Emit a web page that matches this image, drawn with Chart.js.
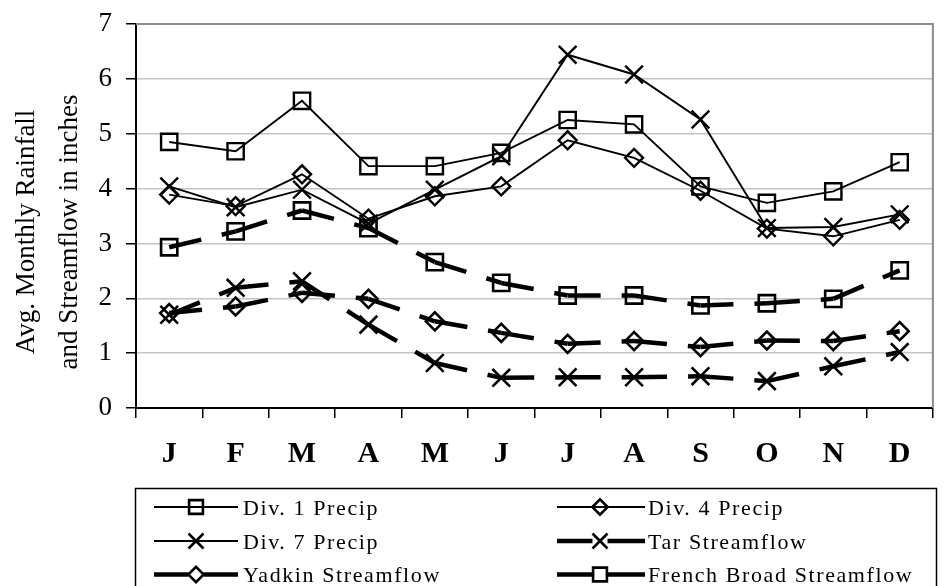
<!DOCTYPE html>
<html><head><meta charset="utf-8">
<script src="https://cdn.jsdelivr.net/npm/chart.js@4/dist/chart.umd.min.js"></script>
<style>html,body{margin:0;padding:0;background:#fff}#wrap{position:relative;width:948px;height:586px;overflow:hidden}</style>
</head><body><div id="wrap"><canvas id="c" width="948" height="586"></canvas></div>
<script>
const months = ['J','F','M','A','M','J','J','A','S','O','N','D'];
const div1Precip = [4.85,4.68,5.60,4.41,4.41,4.65,5.25,5.17,4.04,3.74,3.95,4.48];
const div4Precip = [3.89,3.68,4.26,3.45,3.86,4.04,4.88,4.56,3.96,3.27,3.13,3.43];
const div7Precip = [4.04,3.66,3.98,3.36,3.98,4.59,6.44,6.08,5.26,3.28,3.30,3.53];
const tarFlow = [1.70,2.19,2.31,1.52,0.82,0.55,0.56,0.56,0.58,0.49,0.76,1.02];
const yadkinFlow = [1.73,1.85,2.10,1.99,1.58,1.37,1.17,1.22,1.11,1.23,1.22,1.40];
const frenchBroadFlow = [2.93,3.22,3.60,3.28,2.66,2.28,2.05,2.05,1.87,1.91,1.99,2.51];
const yMin = 0, yMax = 7, yStep = 1;
const seriesNames = ['Div. 1 Precip','Div. 4 Precip','Div. 7 Precip','Tar Streamflow','Yadkin Streamflow','French Broad Streamflow'];
const yTitleLines = ['Avg. Monthly Rainfall','and Streamflow in inches'];

const SERIF = '"Liberation Serif", "Times New Roman", serif';
const FLOW_DASH = [33, 21];

function precipDS(label, data, style, r) {
  return { label, data, kind:'precip', borderColor:'#000', borderWidth:1.9,
    pointStyle:style, pointRadius:r, pointHoverRadius:r, pointBorderWidth:2.4,
    pointBorderColor:'#000', pointBackgroundColor:'rgba(0,0,0,0)', fill:false, tension:0 };
}
function flowDS(label, data, style, r) {
  return { label, data, kind:'flow', borderColor:'#000', borderWidth:4.5, borderDash:FLOW_DASH,
    segment:{ borderDash: () => FLOW_DASH, borderDashOffset: c => c.p0DataIndex * 0.001 },
    pointStyle:style, pointRadius:r, pointHoverRadius:r, pointBorderWidth:2.6,
    pointBorderColor:'#000', pointBackgroundColor:'rgba(0,0,0,0)', fill:false, tension:0 };
}

const datasets = [
  precipDS(seriesNames[0], div1Precip, 'rect', 11.5),
  precipDS(seriesNames[1], div4Precip, 'rectRot', 9),
  precipDS(seriesNames[2], div7Precip, 'crossRot', 12.5),
  flowDS(seriesNames[3], tarFlow, 'crossRot', 12.5),
  flowDS(seriesNames[4], yadkinFlow, 'rectRot', 9),
  flowDS(seriesNames[5], frenchBroadFlow, 'rect', 11.5)
];

function drawMarker(ctx, style, r, x, y, lw) {
  ctx.save();
  ctx.strokeStyle = '#000'; ctx.lineWidth = lw;
  ctx.beginPath();
  if (style === 'rect') { const s = r * Math.SQRT1_2; ctx.rect(x - s, y - s, 2*s, 2*s); }
  else if (style === 'rectRot') { ctx.moveTo(x - r, y); ctx.lineTo(x, y - r); ctx.lineTo(x + r, y); ctx.lineTo(x, y + r); ctx.closePath(); }
  else { const s = r * Math.SQRT1_2; ctx.moveTo(x - s, y - s); ctx.lineTo(x + s, y + s); ctx.moveTo(x - s, y + s); ctx.lineTo(x + s, y - s); }
  ctx.stroke();
  ctx.restore();
}

const extras = {
  id: 'extras',
  beforeDatasetsDraw(chart) {
    const {ctx, chartArea:a} = chart;
    ctx.save();
    ctx.strokeStyle = '#8c8c8c'; ctx.lineWidth = 2;
    ctx.beginPath();
    ctx.moveTo(a.left, a.top); ctx.lineTo(a.right, a.top); ctx.lineTo(a.right, a.bottom);
    ctx.stroke();
    ctx.restore();
  },
  afterDraw(chart) {
    const ctx = chart.ctx;
    ctx.save();
    ctx.fillStyle = '#000';
    ctx.font = '27px ' + SERIF;
    ctx.textAlign = 'center'; ctx.textBaseline = 'alphabetic';
    const xs = [33.5, 76.5];
    yTitleLines.forEach((t, i) => {
      ctx.save(); ctx.translate(xs[i], 232); ctx.rotate(-Math.PI/2); ctx.fillText(t, 0, 0); ctx.restore();
    });
    ctx.restore();
    ctx.save();
    ctx.strokeStyle = '#000'; ctx.lineWidth = 1.5;
    ctx.strokeRect(135.5, 488.5, 801, 120);
    ctx.font = '22px ' + SERIF;
    ctx.fillStyle = '#000';
    ctx.textAlign = 'left'; ctx.textBaseline = 'alphabetic';
    try { ctx.letterSpacing = '1.6px'; } catch(e) {}
    const rowsY = [507, 541, 574.5];
    const cols = [{x0:154, x1:238, mx:196, tx:243}, {x0:557, x1:645, mx:600, tx:648}];
    chart.data.datasets.forEach((ds, i) => {
      const col = cols[i % 2], y = rowsY[Math.floor(i / 2)];
      const r = ds.pointRadius * 0.85;
      ctx.save();
      ctx.strokeStyle = '#000';
      ctx.lineWidth = ds.kind === 'flow' ? 4.5 : 1.9;
      ctx.beginPath();
      if (ds.kind === 'flow') {
        const half = ds.pointStyle === 'rectRot' ? r : r * Math.SQRT1_2;
        ctx.moveTo(col.x0, y); ctx.lineTo(col.mx - half, y);
        ctx.moveTo(col.mx + half, y); ctx.lineTo(col.x1, y);
      } else {
        ctx.moveTo(col.x0, y); ctx.lineTo(col.x1, y);
      }
      ctx.stroke();
      ctx.restore();
      drawMarker(ctx, ds.pointStyle, r, col.mx, y, 2.6);
      ctx.fillText(ds.label, col.tx, y + 7.5);
    });
    ctx.restore();
  }
};

new Chart(document.getElementById('c'), {
  type: 'line',
  data: { labels: months, datasets },
  options: {
    responsive: false, animation: false, devicePixelRatio: 1, events: [],
    layout: { padding: { top: 24, right: 9, bottom: 108, left: 0 } },
    plugins: { legend: { display: false }, tooltip: { enabled: false } },
    scales: {
      x: {
        type: 'category', offset: true,
        grid: { offset: true, drawOnChartArea: false, tickLength: 10, color: '#000', tickColor: '#000', lineWidth: 1.5 },
        border: { color: '#000', width: 2 },
        ticks: { color: '#000', font: { family: SERIF, size: 30, weight: 'bold' }, padding: 18, maxRotation: 0, autoSkip: false },
        afterFit: s => { s.height = 70; s.paddingLeft = 0; s.paddingRight = 0; }
      },
      y: {
        min: yMin, max: yMax,
        grid: { color: '#c4c4c4', lineWidth: 1.5, tickLength: 10, tickColor: '#000' },
        border: { color: '#000', width: 2 },
        ticks: { stepSize: yStep, color: '#000', font: { family: SERIF, size: 27 }, padding: 14 },
        afterFit: s => { s.width = 136; s.paddingTop = 0; s.paddingBottom = 0; }
      }
    }
  },
  plugins: [extras]
});
</script>
</body></html>
